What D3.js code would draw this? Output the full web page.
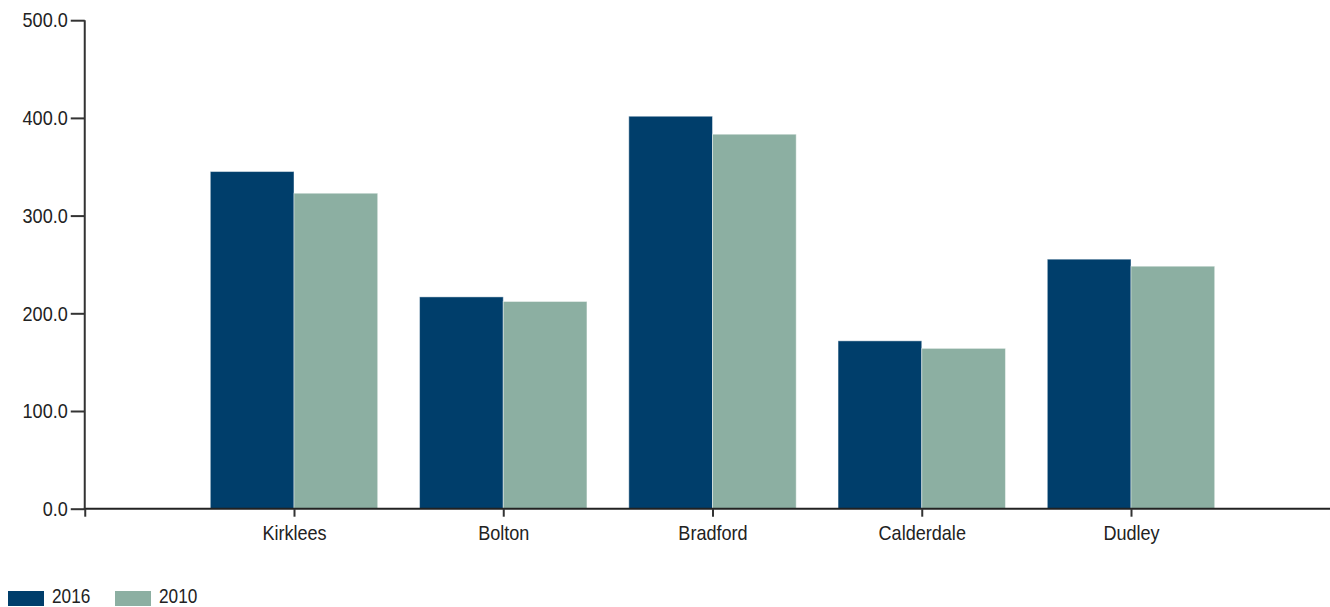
<!DOCTYPE html>
<html>
<head>
<meta charset="utf-8">
<script src="https://cdn.jsdelivr.net/npm/d3@7"></script>
<style>
  html, body { margin: 0; padding: 0; background: #fff; overflow: hidden; }
  svg { display: block; }
  text { font-family: "Liberation Sans", Arial, sans-serif; fill: #222; }
</style>
</head>
<body>
<svg id="chart" width="1330" height="607"></svg>
<script>
const categories = ["Kirklees", "Bolton", "Bradford", "Calderdale", "Dudley"];
const seriesNames = ["2016", "2010"];
const values2016 = [345.1, 216.8, 401.7, 171.8, 255.4];
const values2010 = [322.9, 212.1, 383.3, 164.1, 248.2];
const yTicks = [0, 100, 200, 300, 400, 500];
const colors = ["#003E6B", "#8CAFA2"];

const svg = d3.select("#chart");
const x0 = 84.75, step = 209.25;
const yTop = 20.2, yBottom = 508.7;
const squeeze = 0.86;

function condense(sel) {
  sel.each(function () {
    const w = this.getComputedTextLength();
    if (w > 0) {
      this.setAttribute("textLength", (w * squeeze).toFixed(2));
      this.setAttribute("lengthAdjust", "spacingAndGlyphs");
    }
  });
}

// point scale with an empty slot before and after the categories
const xDomain = [""].concat(categories, ["\u00a0"]);
const x = d3.scalePoint().domain(xDomain).range([x0, x0 + step * (xDomain.length - 1)]);
const y = d3.scaleLinear().domain([0, 500]).range([yBottom, yTop]);
const xSub = d3.scaleBand().domain(seriesNames).range([-0.4 * step, 0.4 * step]).padding(0);

const series = [values2016, values2010];

const g = svg.append("g");
seriesNames.forEach((name, si) => {
  g.selectAll(".bar-" + name)
    .data(categories.map((c, i) => ({ c, v: series[si][i] })))
    .enter().append("rect")
    .attr("x", d => x(d.c) + xSub(name))
    .attr("width", xSub.bandwidth())
    .attr("y", d => y(d.v))
    .attr("height", d => y(0) - y(d.v))
    .attr("fill", colors[si])
    .attr("stroke", "rgba(255,255,255,0.45)")
    .attr("stroke-width", 1);
});

// y axis
const yAxis = d3.axisLeft(y).tickValues(yTicks).tickFormat(d3.format(".1f")).tickSize(14).tickPadding(3);
const ya = svg.append("g").attr("transform", `translate(${x0},0)`).call(yAxis);
ya.select(".domain").remove();
ya.append("line").attr("x1", 0).attr("x2", 0).attr("y1", yTop).attr("y2", yBottom)
  .attr("stroke", "#333").attr("stroke-width", 2);
ya.selectAll(".tick line").attr("stroke", "#333").attr("stroke-width", 2);
ya.selectAll(".tick text").style("font-size", "21px").attr("fill", "#222").call(condense);

// x axis
const xAxis = d3.axisBottom(x).tickSize(8).tickPadding(8);
const xa = svg.append("g").attr("transform", `translate(0,${yBottom})`).call(xAxis);
xa.select(".domain").attr("stroke", "#222").attr("stroke-width", 2)
  .attr("d", `M${x0 - 1},0H${x0 + step * (xDomain.length - 1)}`);
xa.selectAll(".tick line").attr("stroke", "#333").attr("stroke-width", 2);
xa.selectAll(".tick text").style("font-size", "21px").attr("fill", "#222").call(condense);
ya.raise();

// legend
const legend = svg.append("g");
const legX = [8, 115];
seriesNames.forEach((name, si) => {
  legend.append("rect").attr("x", legX[si]).attr("y", 591).attr("width", 36).attr("height", 15)
    .attr("fill", colors[si]);
  legend.append("text").attr("x", legX[si] + 44).attr("y", 603).text(name)
    .style("font-size", "20px").call(condense);
});
</script>
</body>
</html>
